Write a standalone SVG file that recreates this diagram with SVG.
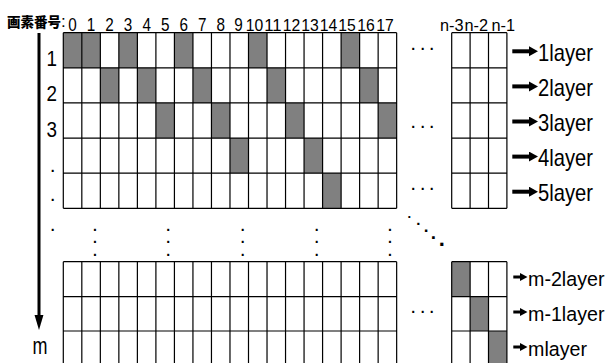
<svg xmlns="http://www.w3.org/2000/svg" width="609" height="363" viewBox="0 0 609 363">
<style>
.bg{fill:#fff}
.grid{fill:none;stroke:#000;stroke-width:1.2}
.sh{fill:#808080}
.t{font-family:"Liberation Sans",Arial,sans-serif;fill:#000}
.num{font-size:18.5px;text-anchor:middle}
.num2{font-size:17px;text-anchor:middle}
.row{font-size:22px;text-anchor:middle}
.lay{font-size:24px}
.layb{font-size:20.5px}
.dot{font-family:"Liberation Sans",Arial,sans-serif;font-weight:bold;font-size:14px;text-anchor:middle;fill:#000}
.hdr{font-family:"Noto Sans CJK JP","Noto Sans CJK SC",sans-serif;font-weight:900;font-size:13.5px;fill:#000}
.arr{stroke:#000;fill:none}
</style>
<defs>
<marker id="ahTop" markerUnits="userSpaceOnUse" markerWidth="10" markerHeight="11" refX="0.5" refY="5" orient="auto">
<path d="M0,0 L9,5 L0,10 z" fill="#000"/>
</marker>
<marker id="ahBot" markerUnits="userSpaceOnUse" markerWidth="8" markerHeight="9" refX="0.5" refY="4" orient="auto">
<path d="M0,0 L7.5,4 L0,8 z" fill="#000"/>
</marker>
<marker id="ahLeft" markerUnits="userSpaceOnUse" markerWidth="10" markerHeight="16" refX="4.6" refY="0.5" orient="0">
<path d="M0,0 L9.2,0 L4.6,15.5 z" fill="#000"/>
</marker>
</defs>
<rect class="bg" x="0" y="0" width="609" height="363"/>

<g id="header">
<text class="hdr" x="7" y="26.5">画素番号<tspan font-family="Liberation Sans,Arial,sans-serif" font-weight="normal" font-size="17px">:</tspan></text>
<g class="t num">
<text x="72.56" y="30.5" textLength="8.5" lengthAdjust="spacingAndGlyphs">0</text>
<text x="91.08" y="30.5" textLength="8.5" lengthAdjust="spacingAndGlyphs">1</text>
<text x="109.6" y="30.5" textLength="8.5" lengthAdjust="spacingAndGlyphs">2</text>
<text x="128.12" y="30.5" textLength="8.5" lengthAdjust="spacingAndGlyphs">3</text>
<text x="146.64" y="30.5" textLength="8.5" lengthAdjust="spacingAndGlyphs">4</text>
<text x="165.16" y="30.5" textLength="8.5" lengthAdjust="spacingAndGlyphs">5</text>
<text x="183.68" y="30.5" textLength="8.5" lengthAdjust="spacingAndGlyphs">6</text>
<text x="202.2" y="30.5" textLength="8.5" lengthAdjust="spacingAndGlyphs">7</text>
<text x="220.72" y="30.5" textLength="8.5" lengthAdjust="spacingAndGlyphs">8</text>
<text x="238.5" y="30.5" textLength="8.5" lengthAdjust="spacingAndGlyphs">9</text>
</g>
<g class="t num2">
<text x="254.5" y="30.5" textLength="17.5" lengthAdjust="spacingAndGlyphs">10</text>
<text x="273" y="30.5" textLength="17.5" lengthAdjust="spacingAndGlyphs">11</text>
<text x="291.5" y="30.5" textLength="17.5" lengthAdjust="spacingAndGlyphs">12</text>
<text x="310" y="30.5" textLength="17.5" lengthAdjust="spacingAndGlyphs">13</text>
<text x="328.5" y="30.5" textLength="17.5" lengthAdjust="spacingAndGlyphs">14</text>
<text x="347" y="30.5" textLength="17.5" lengthAdjust="spacingAndGlyphs">15</text>
<text x="366" y="30.5" textLength="17.5" lengthAdjust="spacingAndGlyphs">16</text>
<text x="385" y="30.5" textLength="17.5" lengthAdjust="spacingAndGlyphs">17</text>
</g>
<g class="t" font-size="16px">
<text x="440" y="30.5" textLength="23.5" lengthAdjust="spacingAndGlyphs">n-3</text>
<text x="464.5" y="30.5" textLength="23.5" lengthAdjust="spacingAndGlyphs">n-2</text>
<text x="491.5" y="30.5" textLength="23.5" lengthAdjust="spacingAndGlyphs">n-1</text>
</g>
</g>

<g id="row-labels" class="t row">
<text x="51.7" y="65.5" textLength="10.5" lengthAdjust="spacingAndGlyphs">1</text>
<text x="51.7" y="101" textLength="10.5" lengthAdjust="spacingAndGlyphs">2</text>
<text x="51.7" y="136.5" textLength="10.5" lengthAdjust="spacingAndGlyphs">3</text>
<text x="40" y="353.5" font-size="23px" textLength="15" lengthAdjust="spacingAndGlyphs">m</text>
</g>
<text class="dot" x="52.7 52.7 52.7" y="171.5 201 230.5" font-size="19px">...</text>

<g id="main-grid">
<g class="sh">
<rect x="63.3" y="32.7" width="18.52" height="35.12"/>
<rect x="81.82" y="32.7" width="18.52" height="35.12"/>
<rect x="118.86" y="32.7" width="18.52" height="35.12"/>
<rect x="174.42" y="32.7" width="18.52" height="35.12"/>
<rect x="248.5" y="32.7" width="18.52" height="35.12"/>
<rect x="341.1" y="32.7" width="18.52" height="35.12"/>
<rect x="100.34" y="67.82" width="18.52" height="35.12"/>
<rect x="137.38" y="67.82" width="18.52" height="35.12"/>
<rect x="192.94" y="67.82" width="18.52" height="35.12"/>
<rect x="267.02" y="67.82" width="18.52" height="35.12"/>
<rect x="359.62" y="67.82" width="18.52" height="35.12"/>
<rect x="155.9" y="102.94" width="18.52" height="35.12"/>
<rect x="211.46" y="102.94" width="18.52" height="35.12"/>
<rect x="285.54" y="102.94" width="18.52" height="35.12"/>
<rect x="378.14" y="102.94" width="18.52" height="35.12"/>
<rect x="229.98" y="138.06" width="18.52" height="35.12"/>
<rect x="304.06" y="138.06" width="18.52" height="35.12"/>
<rect x="322.58" y="173.18" width="18.52" height="35.12"/>
</g>
<path class="grid" d="M63.3,32.7H396.66M63.3,67.82H396.66M63.3,102.94H396.66M63.3,138.06H396.66M63.3,173.18H396.66M63.3,208.3H396.66
M63.3,32.7V208.3M81.82,32.7V208.3M100.34,32.7V208.3M118.86,32.7V208.3M137.38,32.7V208.3M155.9,32.7V208.3M174.42,32.7V208.3M192.94,32.7V208.3M211.46,32.7V208.3M229.98,32.7V208.3M248.5,32.7V208.3M267.02,32.7V208.3M285.54,32.7V208.3M304.06,32.7V208.3M322.58,32.7V208.3M341.1,32.7V208.3M359.62,32.7V208.3M378.14,32.7V208.3M396.66,32.7V208.3"/>
</g>

<g id="right-grid">
<path class="grid" d="M451.7,32.7H506.9M451.7,67.82H506.9M451.7,102.94H506.9M451.7,138.06H506.9M451.7,173.18H506.9M451.7,208.3H506.9
M451.7,32.7V208.3M470.1,32.7V208.3M488.5,32.7V208.3M506.9,32.7V208.3"/>
</g>

<g id="bottom-grid">
<path class="grid" d="M63.3,261.7H396.66M63.3,296.7H396.66M63.3,331H396.66
M63.3,261.7V366M81.82,261.7V366M100.34,261.7V366M118.86,261.7V366M137.38,261.7V366M155.9,261.7V366M174.42,261.7V366M192.94,261.7V366M211.46,261.7V366M229.98,261.7V366M248.5,261.7V366M267.02,261.7V366M285.54,261.7V366M304.06,261.7V366M322.58,261.7V366M341.1,261.7V366M359.62,261.7V366M378.14,261.7V366M396.66,261.7V366"/>
</g>

<g id="bottom-right-grid">
<g class="sh">
<rect x="451.7" y="261.7" width="18.4" height="35"/>
<rect x="470.1" y="296.7" width="18.4" height="34.3"/>
<rect x="488.5" y="331" width="18.4" height="35"/>
</g>
<path class="grid" d="M451.7,261.7H506.9M451.7,296.7H506.9M451.7,331H506.9
M451.7,261.7V366M470.1,261.7V366M488.5,261.7V366M506.9,261.7V366"/>
</g>

<g id="ellipses">
<text class="dot" x="413.3 422.7 431.7" y="50.3 50.3 50.3">...</text>
<text class="dot" x="413.3 422.7 431.7" y="127.7 127.7 127.7">...</text>
<text class="dot" x="413.3 422.7 431.7" y="190 190 190">...</text>
<text class="dot" x="413.3 422.7 431.7" y="312.7 312.7 312.7">...</text>
<text class="dot" x="95 95 95" y="231 243.3 255.6" font-size="17px">...</text>
<text class="dot" x="168.3 168.3 168.3" y="231 243.3 255.6" font-size="17px">...</text>
<text class="dot" x="242.7 242.7 242.7" y="231 243.3 255.6" font-size="17px">...</text>
<text class="dot" x="316.7 316.7 316.7" y="231 243.3 255.6" font-size="17px">...</text>
<text class="dot" x="390 390 390" y="231 243.3 255.6" font-size="17px">...</text>
<text class="dot"><tspan x="409.3" y="218.3" font-size="13px">.</tspan><tspan x="418.3" y="225.2" font-size="15px">.</tspan><tspan x="426" y="232" font-size="17px">.</tspan><tspan x="433.3" y="238.8" font-size="19px">.</tspan><tspan x="441.7" y="246" font-size="22px">.</tspan></text>
</g>

<g id="layer-labels" class="t">
<text class="lay" x="538" y="60.8" textLength="55" lengthAdjust="spacingAndGlyphs">1layer</text>
<text class="lay" x="538" y="95.9" textLength="55" lengthAdjust="spacingAndGlyphs">2layer</text>
<text class="lay" x="538" y="131" textLength="55" lengthAdjust="spacingAndGlyphs">3layer</text>
<text class="lay" x="538" y="166.1" textLength="55" lengthAdjust="spacingAndGlyphs">4layer</text>
<text class="lay" x="538" y="201.2" textLength="55" lengthAdjust="spacingAndGlyphs">5layer</text>
<text class="layb" x="528" y="286" textLength="76.5" lengthAdjust="spacingAndGlyphs">m-2layer</text>
<text class="layb" x="528" y="321" textLength="76.5" lengthAdjust="spacingAndGlyphs">m-1layer</text>
<text class="layb" x="528" y="356" textLength="59" lengthAdjust="spacingAndGlyphs">mlayer</text>
</g>

<g id="connectors">
<line class="arr" x1="39" y1="33" x2="39" y2="315" stroke-width="3" marker-end="url(#ahLeft)"/>
<g class="arr" stroke-width="4" marker-end="url(#ahTop)">
<line x1="512.3" y1="51.3" x2="529.5" y2="51.3"/>
<line x1="512.3" y1="86.4" x2="529.5" y2="86.4"/>
<line x1="512.3" y1="121.5" x2="529.5" y2="121.5"/>
<line x1="512.3" y1="156.6" x2="529.5" y2="156.6"/>
<line x1="512.3" y1="191.7" x2="529.5" y2="191.7"/>
</g>
<g class="arr" stroke-width="3" marker-end="url(#ahBot)">
<line x1="513.3" y1="277" x2="520.5" y2="277"/>
<line x1="513.3" y1="312" x2="520.5" y2="312"/>
<line x1="513.3" y1="347" x2="520.5" y2="347"/>
</g>
</g>
</svg>
